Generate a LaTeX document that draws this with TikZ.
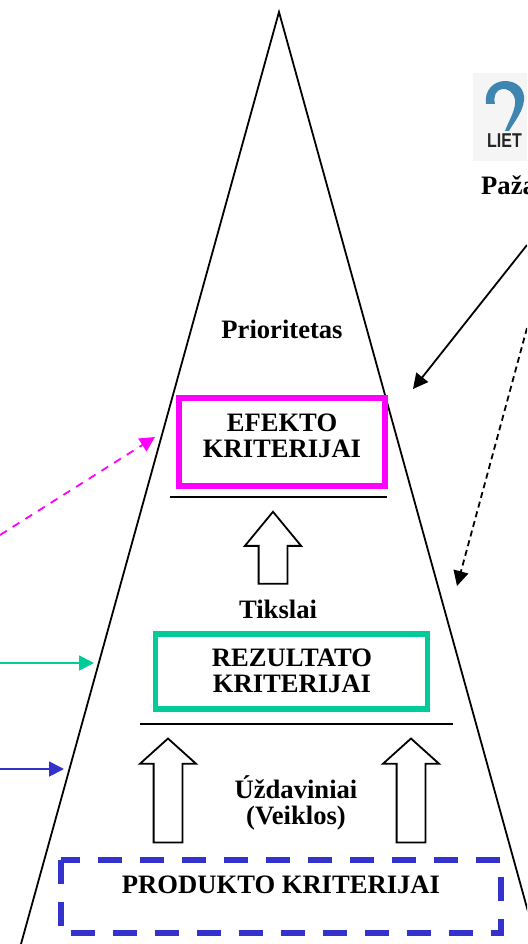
\documentclass[tikz,border=0pt]{standalone}
\usepackage{fontspec}
\setmainfont{Liberation Serif}
\newfontfamily\logofont{Liberation Sans}
\usetikzlibrary{arrows.meta,shapes.arrows}
\definecolor{efektocol}{RGB}{255,0,255}
\definecolor{rezultcol}{RGB}{0,204,153}
\definecolor{produktcol}{RGB}{51,51,204}
\definecolor{logocol}{RGB}{62,134,176}
\tikzset{
  label/.style={font=\fontsize{26.6}{26}\selectfont\bfseries,align=center,inner sep=0pt},
  critbox/.style={draw,line width=5.5pt,fill=white,inner sep=0pt},
  uparrow/.style={draw,line width=1.8pt,fill=white,single arrow,rotate=90,inner sep=0pt,
    text height=27pt,text depth=0pt,single arrow head extend=13.7pt,single arrow head indent=0pt},
  feed/.style={line width=1.8pt,-{Triangle[length=15pt,width=15pt]}}
}
\begin{document}
\begin{tikzpicture}[x=1pt,y=-1pt]
  \clip (0,0) rectangle (527,944);

  % Pyramid
  \coordinate (apex) at (279,12);
  \coordinate (baseL) at (21,944);
  \coordinate (baseR) at (537,944);
  \draw[line width=1.8pt,line join=miter] (baseL) -- (apex) -- (baseR);

  % Criteria boxes
  \node[critbox,draw=efektocol,minimum width=206pt,minimum height=88pt] (efekto) at (282,442) {};
  \node[critbox,draw=rezultcol,minimum width=272pt,minimum height=75pt] (rezultatas) at (291.5,671.5) {};
  \node[fill=white,inner sep=0pt,minimum width=440pt,minimum height=73pt] (produktas) at (281,896.5) {};
  \draw[produktcol,line width=6pt,dash pattern=on 24pt off 18pt] (produktas.north west)
    -- (produktas.south west) -- (produktas.south east) -- (produktas.north east) -- cycle;

  % Labels
  \node[label] (prioritetas) at (282,329) {Prioritetas};
  \node[label] (efektotxt) at (282,436) {EFEKTO\\KRITERIJAI};
  \node[label] (tikslai) at (278,609) {Tikslai};
  \node[label] (rezulttxt) at (292,670.5) {REZULTATO\\KRITERIJAI};
  \node[label] (uzdaviniai) at (296,803) {Úždaviniai\\(Veiklos)};
  \node[label] (produkttxt) at (281,885) {PRODUKTO KRITERIJAI};

  % Separators
  \coordinate (sepAL) at (170,497);
  \coordinate (sepAR) at (387,497);
  \coordinate (sepBL) at (140,724);
  \coordinate (sepBR) at (453,724);
  \draw[line width=1.8pt] (sepAL) -- (sepAR);
  \draw[line width=1.8pt] (sepBL) -- (sepBR);

  % Block arrows
  \node[uparrow,minimum height=72pt,single arrow tip angle=79] (upA) at (273,556.5) {};
  \node[uparrow,minimum height=104pt,single arrow tip angle=96] (upB) at (168,797) {};
  \node[uparrow,minimum height=104pt,single arrow tip angle=96] (upC) at (411,797) {};

  % Logo
  \fill[black!4] (473,73) rectangle (527,161);
  \fill[logocol]
    (486,104) .. controls (484,90) and (494,81) .. (505,81) .. controls (518,81) and (525,90) .. (524,100)
    .. controls (523,112) and (514,122) .. (509,131) -- (505,131)
    .. controls (509,120) and (516,110) .. (515,100) .. controls (514,92) and (507,88) .. (502,89)
    .. controls (496,90) and (493,96) .. (495,104) -- cycle;
  \node[font=\logofont\bfseries\fontsize{20}{20}\selectfont,text=black!85,anchor=west,inner sep=0pt,xscale=0.8] (logotxt) at (487,141) {LIET};
  \node[label,anchor=base west] (pazymos) at (481,194) {Paža};

  % Incoming arrows
  \coordinate (blackA) at (527,245);
  \coordinate (blackAend) at (413,389);
  \coordinate (blackB) at (527,328);
  \coordinate (blackBend) at (457,586);
  \coordinate (magA) at (0,535);
  \coordinate (magAend) at (155,437);
  \coordinate (greenA) at (0,663);
  \coordinate (greenAend) at (94,663);
  \coordinate (blueA) at (0,769);
  \coordinate (blueAend) at (64,769);
  \draw[feed] (blackA) -- (blackAend);
  \draw[feed,dash pattern=on 6pt off 4pt] (blackB) -- (blackBend);
  \draw[feed,efektocol,dash pattern=on 8pt off 7pt] (magA) -- (magAend);
  \draw[feed,rezultcol] (greenA) -- (greenAend);
  \draw[feed,produktcol] (blueA) -- (blueAend);
\end{tikzpicture}
\end{document}
